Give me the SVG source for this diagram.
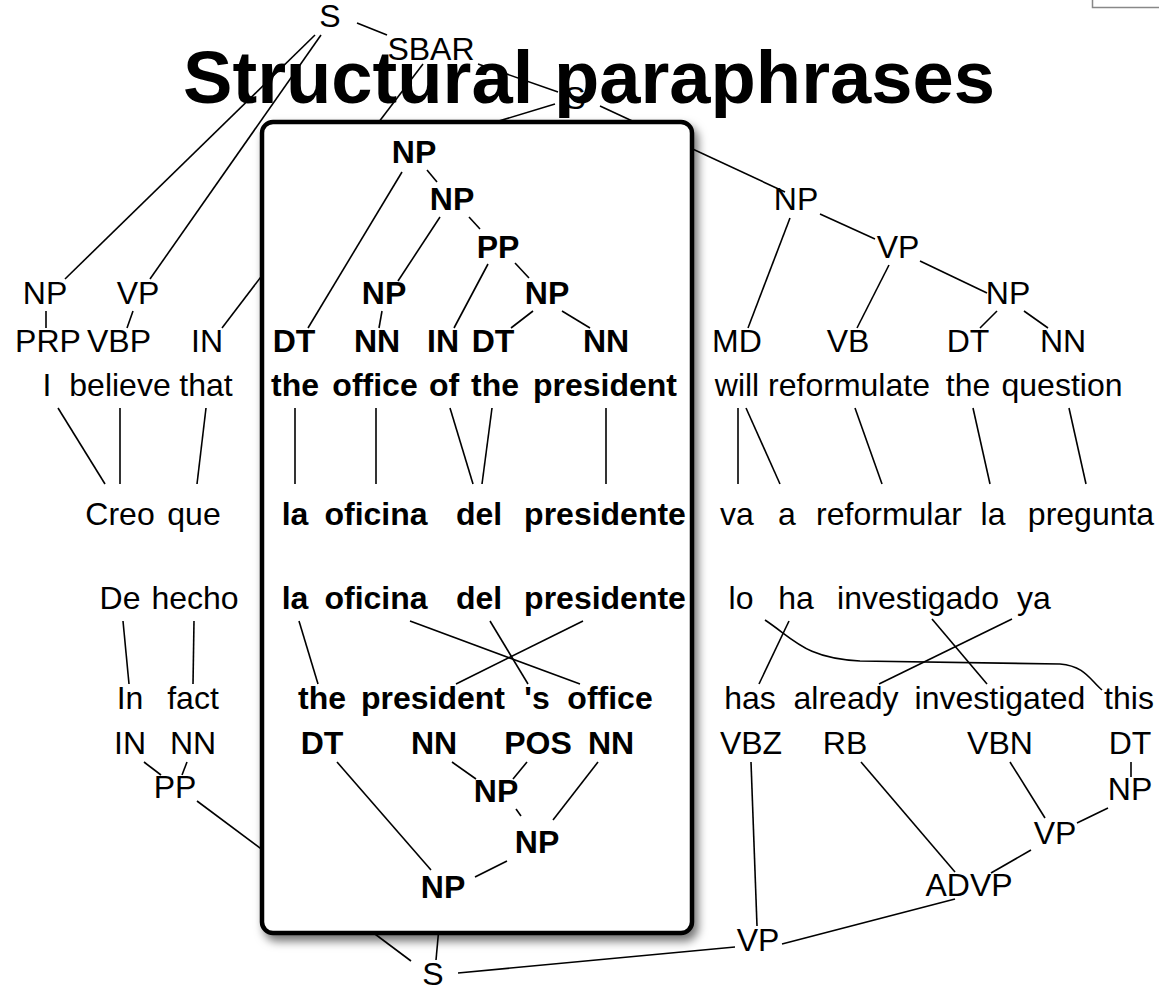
<svg xmlns="http://www.w3.org/2000/svg" width="1159" height="992" viewBox="0 0 1159 992">
<defs>
<style>
text{font-family:"Liberation Sans",Arial,Helvetica,sans-serif;font-size:32px;fill:#000;text-anchor:middle}
.b{font-weight:bold}
.title{font-weight:bold;font-size:74px}
#connectors line,#connectors path,#inbox-connectors line{stroke:#000;stroke-width:1.6;fill:none}
</style>
<filter id="sh" x="-10%" y="-10%" width="125%" height="125%">
<feDropShadow dx="4" dy="6" stdDeviation="5" flood-color="#000" flood-opacity="0.55"/>
</filter>
</defs>
<rect width="1159" height="992" fill="#fff"/>
<rect x="1092.5" y="-6" width="80" height="13.5" fill="#fff" stroke="#888" stroke-width="1.5"/>
<text class="title" x="589" y="103" textLength="812" lengthAdjust="spacingAndGlyphs">Structural paraphrases</text>

<g id="connectors">
<line x1="357" y1="23" x2="387" y2="35"/>
<line x1="315" y1="35" x2="65" y2="279"/>
<line x1="321" y1="35" x2="150" y2="279"/>
<line x1="423" y1="64" x2="222" y2="328"/>
<line x1="478" y1="64" x2="558" y2="92"/>
<line x1="46" y1="311" x2="46" y2="328"/>
<line x1="133" y1="311" x2="127" y2="328"/>
<line x1="555" y1="104" x2="430" y2="142"/>
<line x1="600" y1="106" x2="785" y2="192"/>
<line x1="790" y1="218" x2="748" y2="328"/>
<line x1="820" y1="214" x2="875" y2="239"/>
<line x1="889" y1="265" x2="857" y2="328"/>
<line x1="920" y1="261" x2="987" y2="293"/>
<line x1="997" y1="311" x2="980" y2="328"/>
<line x1="1024" y1="311" x2="1048" y2="328"/>
<line x1="58" y1="408" x2="105" y2="484"/>
<line x1="120" y1="408" x2="120" y2="484"/>
<line x1="206" y1="408" x2="197" y2="484"/>
<line x1="738" y1="408" x2="738" y2="484"/>
<line x1="746" y1="408" x2="780" y2="484"/>
<line x1="855" y1="408" x2="882" y2="484"/>
<line x1="973" y1="408" x2="990" y2="484"/>
<line x1="1069" y1="408" x2="1086" y2="484"/>
<line x1="123" y1="621" x2="129" y2="684"/>
<line x1="194" y1="621" x2="193" y2="684"/>
<line x1="789" y1="621" x2="759" y2="684"/>
<line x1="932" y1="619" x2="987" y2="684"/>
<line x1="1012" y1="619" x2="879" y2="684"/>
<path d="M765,620 C795,640 805,658 860,661 L1060,664 C1085,666 1090,680 1102,690"/>
<line x1="144" y1="762" x2="161" y2="775"/>
<line x1="187" y1="762" x2="182" y2="775"/>
<line x1="197" y1="801" x2="411" y2="961"/>
<line x1="436" y1="960" x2="441" y2="905"/>
<line x1="458" y1="973" x2="735" y2="947"/>
<line x1="751" y1="762" x2="757" y2="926"/>
<line x1="861" y1="762" x2="955" y2="872"/>
<line x1="1010" y1="762" x2="1045" y2="818"/>
<line x1="1131" y1="762" x2="1131" y2="777"/>
<line x1="1108" y1="808" x2="1077" y2="823"/>
<line x1="1031" y1="850" x2="991" y2="873"/>
<line x1="782" y1="944" x2="955" y2="899"/>
</g>

<g id="box">
<rect x="262" y="122" width="430" height="811" rx="11" fill="#fff" stroke="#000" stroke-width="4.5" filter="url(#sh)"/>
</g>

<g id="inbox-connectors">
<line x1="402" y1="172" x2="308" y2="328"/>
<line x1="427" y1="170" x2="437" y2="182"/>
<line x1="440" y1="217" x2="398" y2="281"/>
<line x1="469" y1="217" x2="480" y2="229"/>
<line x1="488" y1="264" x2="454" y2="328"/>
<line x1="515" y1="263" x2="529" y2="278"/>
<line x1="382" y1="311" x2="379" y2="328"/>
<line x1="533" y1="311" x2="511" y2="328"/>
<line x1="562" y1="311" x2="590" y2="328"/>
<line x1="295" y1="408" x2="295" y2="484"/>
<line x1="376" y1="408" x2="376" y2="484"/>
<line x1="450" y1="408" x2="473" y2="484"/>
<line x1="492" y1="408" x2="482" y2="484"/>
<line x1="606" y1="408" x2="606" y2="484"/>
<line x1="299" y1="621" x2="318" y2="684"/>
<line x1="410" y1="621" x2="580" y2="684"/>
<line x1="490" y1="621" x2="528" y2="684"/>
<line x1="583" y1="621" x2="456" y2="684"/>
<line x1="337" y1="762" x2="431" y2="870"/>
<line x1="452" y1="762" x2="476" y2="779"/>
<line x1="527" y1="762" x2="513" y2="779"/>
<line x1="598" y1="762" x2="553" y2="820"/>
<line x1="516" y1="809" x2="521" y2="816"/>
<line x1="507" y1="861" x2="475" y2="877"/>
</g>

<g id="n-S-top"><text x="330" y="27">S</text></g>
<g id="n-SBAR"><text x="431" y="60">SBAR</text></g>
<g id="n-S2"><text x="575" y="109">S</text></g>
<g id="n-NP-l"><text x="45" y="304">NP</text></g>
<g id="n-VP-l"><text x="138" y="304">VP</text></g>
<g id="n-PRP"><text x="48" y="352">PRP</text></g>
<g id="n-VBP"><text x="119" y="352">VBP</text></g>
<g id="n-IN-t"><text x="207" y="352">IN</text></g>
<g id="n-w-I"><text x="47" y="396">I</text></g>
<g id="n-w-believe"><text x="120" y="396">believe</text></g>
<g id="n-w-that"><text x="206" y="396">that</text></g>

<g id="n-NP-b1"><text class="b" x="414" y="163">NP</text></g>
<g id="n-NP-b2"><text class="b" x="452" y="210">NP</text></g>
<g id="n-PP-b"><text class="b" x="498" y="258">PP</text></g>
<g id="n-NP-b3"><text class="b" x="384" y="304">NP</text></g>
<g id="n-NP-b4"><text class="b" x="547" y="304">NP</text></g>
<g id="n-DT-b1"><text class="b" x="294" y="352">DT</text></g>
<g id="n-NN-b1"><text class="b" x="377" y="352">NN</text></g>
<g id="n-IN-b"><text class="b" x="443" y="352">IN</text></g>
<g id="n-DT-b2"><text class="b" x="493" y="352">DT</text></g>
<g id="n-NN-b2"><text class="b" x="606" y="352">NN</text></g>
<g id="n-w-the1"><text class="b" x="295" y="396">the</text></g>
<g id="n-w-office1"><text class="b" x="375" y="396">office</text></g>
<g id="n-w-of"><text class="b" x="444" y="396">of</text></g>
<g id="n-w-the2"><text class="b" x="495" y="396">the</text></g>
<g id="n-w-president1"><text class="b" x="605" y="396">president</text></g>

<g id="n-NP-r1"><text x="796" y="210">NP</text></g>
<g id="n-VP-r1"><text x="898" y="258">VP</text></g>
<g id="n-NP-r2"><text x="1008" y="304">NP</text></g>
<g id="n-MD"><text x="737" y="352">MD</text></g>
<g id="n-VB"><text x="848" y="352">VB</text></g>
<g id="n-DT-r"><text x="968" y="352">DT</text></g>
<g id="n-NN-r"><text x="1063" y="352">NN</text></g>
<g id="n-w-will"><text x="737" y="396">will</text></g>
<g id="n-w-reformulate"><text x="849" y="396">reformulate</text></g>
<g id="n-w-the3"><text x="968" y="396">the</text></g>
<g id="n-w-question"><text x="1062" y="396">question</text></g>

<g id="n-w-Creo"><text x="120" y="525">Creo</text></g>
<g id="n-w-que"><text x="194" y="525">que</text></g>
<g id="n-w-la1"><text class="b" x="295" y="525">la</text></g>
<g id="n-w-oficina1"><text class="b" x="376" y="525">oficina</text></g>
<g id="n-w-del1"><text class="b" x="479" y="525">del</text></g>
<g id="n-w-presidente1"><text class="b" x="605" y="525">presidente</text></g>
<g id="n-w-va"><text x="737" y="525">va</text></g>
<g id="n-w-a"><text x="787" y="525">a</text></g>
<g id="n-w-reformular"><text x="889" y="525">reformular</text></g>
<g id="n-w-la2"><text x="993" y="525">la</text></g>
<g id="n-w-pregunta"><text x="1091" y="525">pregunta</text></g>

<g id="n-w-De"><text x="120" y="609">De</text></g>
<g id="n-w-hecho"><text x="195" y="609">hecho</text></g>
<g id="n-w-la3"><text class="b" x="295" y="609">la</text></g>
<g id="n-w-oficina2"><text class="b" x="376" y="609">oficina</text></g>
<g id="n-w-del2"><text class="b" x="479" y="609">del</text></g>
<g id="n-w-presidente2"><text class="b" x="605" y="609">presidente</text></g>
<g id="n-w-lo"><text x="741" y="609">lo</text></g>
<g id="n-w-ha"><text x="796" y="609">ha</text></g>
<g id="n-w-investigado"><text x="918" y="609">investigado</text></g>
<g id="n-w-ya"><text x="1034" y="609">ya</text></g>

<g id="n-w-In"><text x="130" y="709">In</text></g>
<g id="n-w-fact"><text x="193" y="709">fact</text></g>
<g id="n-w-the4"><text class="b" x="322" y="709">the</text></g>
<g id="n-w-president2"><text class="b" x="433" y="709">president</text></g>
<g id="n-w-s"><text class="b" x="537" y="709">'s</text></g>
<g id="n-w-office2"><text class="b" x="610" y="709">office</text></g>
<g id="n-w-has"><text x="750" y="709">has</text></g>
<g id="n-w-already"><text x="846" y="709">already</text></g>
<g id="n-w-investigated"><text x="1000" y="709">investigated</text></g>
<g id="n-w-this"><text x="1129" y="709">this</text></g>

<g id="n-IN-bl"><text x="130" y="754">IN</text></g>
<g id="n-NN-bl"><text x="193" y="754">NN</text></g>
<g id="n-DT-bb"><text class="b" x="322" y="754">DT</text></g>
<g id="n-NN-bb1"><text class="b" x="434" y="754">NN</text></g>
<g id="n-POS"><text class="b" x="538" y="754">POS</text></g>
<g id="n-NN-bb2"><text class="b" x="611" y="754">NN</text></g>
<g id="n-VBZ"><text x="751" y="754">VBZ</text></g>
<g id="n-RB"><text x="845" y="754">RB</text></g>
<g id="n-VBN"><text x="1000" y="754">VBN</text></g>
<g id="n-DT-br"><text x="1130" y="754">DT</text></g>

<g id="n-PP-bl"><text x="175" y="798">PP</text></g>
<g id="n-NP-bb1"><text class="b" x="496" y="802">NP</text></g>
<g id="n-NP-br"><text x="1130" y="800">NP</text></g>
<g id="n-NP-bb2"><text class="b" x="537" y="853">NP</text></g>
<g id="n-VP-br"><text x="1055" y="844">VP</text></g>
<g id="n-NP-bb3"><text class="b" x="443" y="898">NP</text></g>
<g id="n-ADVP"><text x="969" y="896">ADVP</text></g>
<g id="n-VP-bottom"><text x="758" y="951">VP</text></g>
<g id="n-S-bottom"><text x="433" y="985">S</text></g>
</svg>
